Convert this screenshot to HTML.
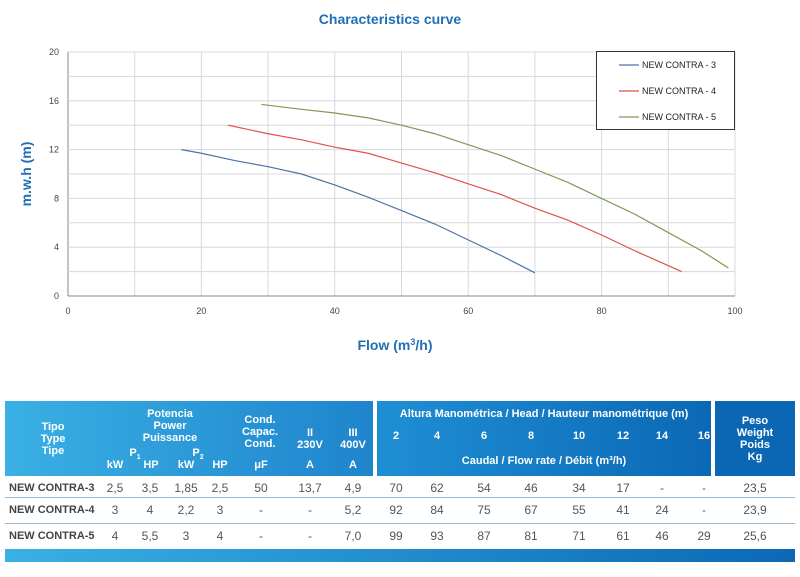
<!DOCTYPE html>
<html><head><meta charset="utf-8"><style>
body{margin:0;width:800px;height:577px;background:#fff;font-family:"Liberation Sans",sans-serif;overflow:hidden;position:relative}
svg{position:absolute;left:0;top:0}
.tbl{position:absolute;left:0;top:0}
.h{position:absolute;color:#fff;font-weight:bold;font-size:11px;text-align:center;line-height:12px;white-space:nowrap}
.c{position:absolute;color:#555;font-size:12px;text-align:center;width:40px}
.n{position:absolute;color:#444;font-size:11px;font-weight:bold;left:9px;white-space:nowrap;margin-top:1px}
</style></head><body>
<svg id="chart" width="800" height="400">
<text x="390" y="24" text-anchor="middle" font-size="14" font-weight="bold" fill="#1f6fb5">Characteristics curve</text>
<g id="grid"></g><g id="series"></g>
<text x="395" y="350" text-anchor="middle" font-size="14" font-weight="bold" fill="#1f6fb5">Flow (m<tspan font-size="9" dy="-5">3</tspan><tspan dy="5">/h)</tspan></text>
<text transform="translate(31,174) rotate(-90)" text-anchor="middle" font-size="14" font-weight="bold" fill="#1f6fb5">m.w.h (m)</text>
<g>
<rect x="596.5" y="51.5" width="138" height="78" fill="#fff" stroke="#333"/>
<g id="legend"></g></g>
</svg>
<div class="tbl">
<div style="position:absolute;left:5px;top:401px;width:368px;height:75px;background:linear-gradient(90deg,#3ab0e4,#1f84cc)"></div>
<div style="position:absolute;left:377px;top:401px;width:334px;height:75px;background:linear-gradient(90deg,#1f8fd4,#0b68b5)"></div>
<div style="position:absolute;left:715px;top:401px;width:80px;height:75px;background:#0b66b3"></div>
<div class="h" style="left:30px;top:421px;width:46px">Tipo<br>Type<br>Tipe</div>
<div class="h" style="left:130px;top:408px;width:80px">Potencia<br>Power<br>Puissance</div>
<div class="h" style="left:125px;top:447px;width:20px">P<sub style="font-size:7px">1</sub></div>
<div class="h" style="left:188px;top:447px;width:20px">P<sub style="font-size:7px">2</sub></div>
<div class="h" style="left:235px;top:414px;width:50px">Cond.<br>Capac.<br>Cond.</div>
<div class="h" style="left:290px;top:427px;width:40px">II<br>230V</div>
<div class="h" style="left:333px;top:427px;width:40px">III<br>400V</div>
<div class="h" style="left:95px;top:459px;width:40px">kW</div><div class="h" style="left:131px;top:459px;width:40px">HP</div>
<div class="h" style="left:166px;top:459px;width:40px">kW</div><div class="h" style="left:200px;top:459px;width:40px">HP</div>
<div class="h" style="left:241px;top:459px;width:40px">μF</div><div class="h" style="left:290px;top:459px;width:40px">A</div><div class="h" style="left:333px;top:459px;width:40px">A</div>
<div class="h" style="left:377px;top:408px;width:334px">Altura Manométrica / Head / Hauteur manométrique (m)</div>
<div class="h" style="left:377px;top:455px;width:334px">Caudal / Flow rate / Débit (m³/h)</div>
<div class="h" style="left:715px;top:415px;width:80px">Peso<br>Weight<br>Poids<br>Kg</div>
<div id="hh"></div>
<div id="rows"></div>
<div style="position:absolute;left:5px;top:497px;width:790px;height:1px;background:#9bb9d0"></div>
<div style="position:absolute;left:5px;top:523px;width:790px;height:1px;background:#9bb9d0"></div>
<div style="position:absolute;left:5px;top:549px;width:790px;height:13px;background:linear-gradient(90deg,#3ab0e4,#0b68b5)"></div>
</div>
<script>
const xTicks=[0,20,40,60,80,100];
const yTicks=[0,4,8,12,16,20];
const names=["NEW CONTRA - 3","NEW CONTRA - 4","NEW CONTRA - 5"];
const colors=["#4a75a8","#e0524a","#7e9b55"];
const flowA=[17,20,25,30,35,40,45,50,55,60,65,70];
const headA=[12,11.7,11.1,10.6,10,9.1,8.1,7,5.9,4.6,3.3,1.9];
const flowB=[24,30,35,40,45,50,55,60,65,70,75,80,85,92];
const headB=[14,13.3,12.8,12.2,11.7,10.9,10.1,9.2,8.3,7.2,6.2,5,3.7,2];
const flowC=[29,35,40,45,50,55,60,65,70,75,80,85,90,95,99];
const headC=[15.7,15.3,15,14.6,14,13.3,12.4,11.5,10.4,9.3,8,6.7,5.2,3.7,2.3];
const flows=[flowA,flowB,flowC], heads=[headA,headB,headC];
const models=["NEW CONTRA-3","NEW CONTRA-4","NEW CONTRA-5"];
const specs=[["2,5","3,5","1,85","2,5","50","13,7","4,9"],["3","4","2,2","3","-","-","5,2"],["4","5,5","3","4","-","-","7,0"]];
const headCols=[2,4,6,8,10,12,14,16];
const flowTable=[["70","62","54","46","34","17","-","-"],["92","84","75","67","55","41","24","-"],["99","93","87","81","71","61","46","29"]];
const weights=["23,5","23,9","25,6"];
const X=v=>68+v*6.67, Y=v=>296-v*12.2;
const NS="http://www.w3.org/2000/svg";
const g=document.getElementById('grid');
function mk(p,t,a){const e=document.createElementNS(NS,t);for(const k in a)e.setAttribute(k,a[k]);p.appendChild(e);return e;}
for(let i=0;i<=10;i++){const l=mk(g,'line',{x1:X(i*10),x2:X(i*10),y1:Y(0),y2:Y(20),stroke:i?'#d6d9dc':'#888','stroke-width':1});

}
for(let i=0;i<=10;i++){const l=mk(g,'line',{x1:X(0),x2:X(100),y1:Y(i*2),y2:Y(i*2),stroke:i?'#d6d9dc':'#888','stroke-width':1});

}
xTicks.forEach(v=>{const t=mk(g,'text',{x:X(v),y:314,'text-anchor':'middle','font-size':9,fill:'#444'});t.textContent=v;

});
yTicks.forEach(v=>{const t=mk(g,'text',{x:59,y:Y(v)+3,'text-anchor':'end','font-size':9,fill:'#444'});t.textContent=v;

});
const s=document.getElementById('series'),lg=document.getElementById('legend');
flows.forEach((f,i)=>{const p=mk(s,'polyline',{points:f.map((x,j)=>X(x)+','+Y(heads[i][j])).join(' '),fill:'none',stroke:colors[i],'stroke-width':1.2});


const y=65+i*26;mk(lg,'line',{x1:619,x2:639,y1:y,y2:y,stroke:colors[i],'stroke-width':1.2});
const t=mk(lg,'text',{x:642,y:y+3,'font-size':9,fill:'#222'});t.textContent=names[i];

});
const hh=document.getElementById('hh');
const hx=[396,437,484,531,579,623,662,704];
headCols.forEach((h,i)=>{const d=document.createElement('div');d.className='h';d.style.left=(hx[i]-20)+'px';d.style.top='430px';d.style.width='40px';d.textContent=h;

hh.appendChild(d);});
const rows=document.getElementById('rows');
const sx=[115,150,186,220,261,310,353];
const rowY=[481,503,529];
models.forEach((m,r)=>{let d=document.createElement('div');d.className='n';d.style.top=rowY[r]+'px';d.textContent=m;

rows.appendChild(d);
specs[r].concat(flowTable[r]).concat([weights[r]]).forEach((v,k)=>{const c=document.createElement('div');c.className='c';
const cx=k<7?sx[k]:k<15?hx[k-7]:755;c.style.left=(cx-20)+'px';c.style.top=rowY[r]+'px';c.textContent=v;

rows.appendChild(c);});});
</script>
</body></html>
